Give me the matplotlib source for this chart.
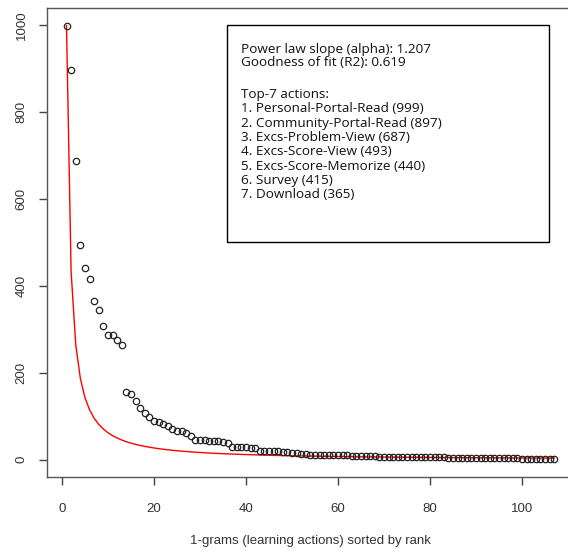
import numpy as np
import matplotlib
matplotlib.use("Agg")
import matplotlib.pyplot as plt
from matplotlib.patches import Rectangle

plt.rcParams["font.family"] = ["Liberation Sans", "DejaVu Sans"]

# frequency of each 1-gram, sorted by rank
counts = [999, 897, 687, 493, 440, 415, 365, 345, 307, 287, 286, 276, 264, 156, 151,
          136, 118, 107, 98, 88, 87,
          83, 78, 70, 67, 67, 61, 54, 46, 46, 45, 44, 44, 42, 40, 38, 28, 30, 30, 28,
          27, 26, 21, 21,
          20, 20, 19, 18, 17, 16, 15, 13, 12, 11, 11, 11, 11,
          11, 11, 10, 10, 10, 9, 9, 9, 8, 8, 8, 7, 7,
          7, 7, 6, 6, 6, 6, 6, 6, 5, 5, 5, 5,
          5, 4, 4, 4, 4, 4, 4, 4, 4, 3, 3, 3, 3, 3, 3, 3, 3,
          2, 2, 2, 2, 1, 1, 1, 1]
ranks = np.arange(1, len(counts) + 1)

alpha = 1.207
r2 = 0.619
top_actions = ["Personal-Portal-Read", "Community-Portal-Read", "Excs-Problem-View",
               "Excs-Score-View", "Excs-Score-Memorize", "Survey", "Download"]
top_counts = counts[:7]

# power law fit line
fit = counts[0] * ranks.astype(float) ** (-alpha)

fig = plt.figure(figsize=(5.68, 5.52), dpi=100)
ax = fig.add_axes([47 / 568, 75 / 552, 526.7 / 568, 469 / 552])

ax.plot(ranks, fit, color="red", lw=1.0, zorder=2)
ax.plot(ranks, counts, linestyle="none", marker="o", markersize=4.6,
        markerfacecolor="none", markeredgecolor="#222222", markeredgewidth=0.9, zorder=3)

ax.set_xlim(-3.24, 111.24)
ax.set_ylim(-40, 1039.6)
ax.set_xticks([0, 20, 40, 60, 80, 100])
ax.set_yticks([0, 200, 400, 600, 800, 1000])

for s in ax.spines.values():
    s.set_color("#555555")
    s.set_linewidth(1.0)
ax.tick_params(axis="both", direction="out", length=6, width=1, color="#444444",
               labelcolor="#333333", labelsize=9.5)
ax.tick_params(axis="x", pad=13)
ax.tick_params(axis="y", pad=8)
for lab in ax.get_yticklabels():
    lab.set_rotation(90)
    lab.set_va("center")

ax.set_xlabel("1-grams (learning actions) sorted by rank",
              fontsize=9.5, color="#333333", labelpad=14)

# info box
ax.add_patch(Rectangle((35.9, 500), 70.0, 500, fill=False, edgecolor="black",
                       lw=1.0, zorder=4))
box_font = ["Open Sans", "DejaVu Sans"]
ax.text(38.9, 958, "Power law slope (alpha): %.3f\nGoodness of fit (R2): %.3f" % (alpha, r2),
        family=box_font, fontsize=9.7, va="top", ha="left", linespacing=0.92, color="#111111")
lines = ["Top-7 actions:"] + ["%d. %s (%d)" % (i + 1, a, c)
                             for i, (a, c) in enumerate(zip(top_actions, top_counts))]
ax.text(38.9, 855, "\n".join(lines), family=box_font, fontsize=9.7, va="top", ha="left",
        linespacing=1.13, color="#111111")

fig.savefig("out.png", dpi=100)
